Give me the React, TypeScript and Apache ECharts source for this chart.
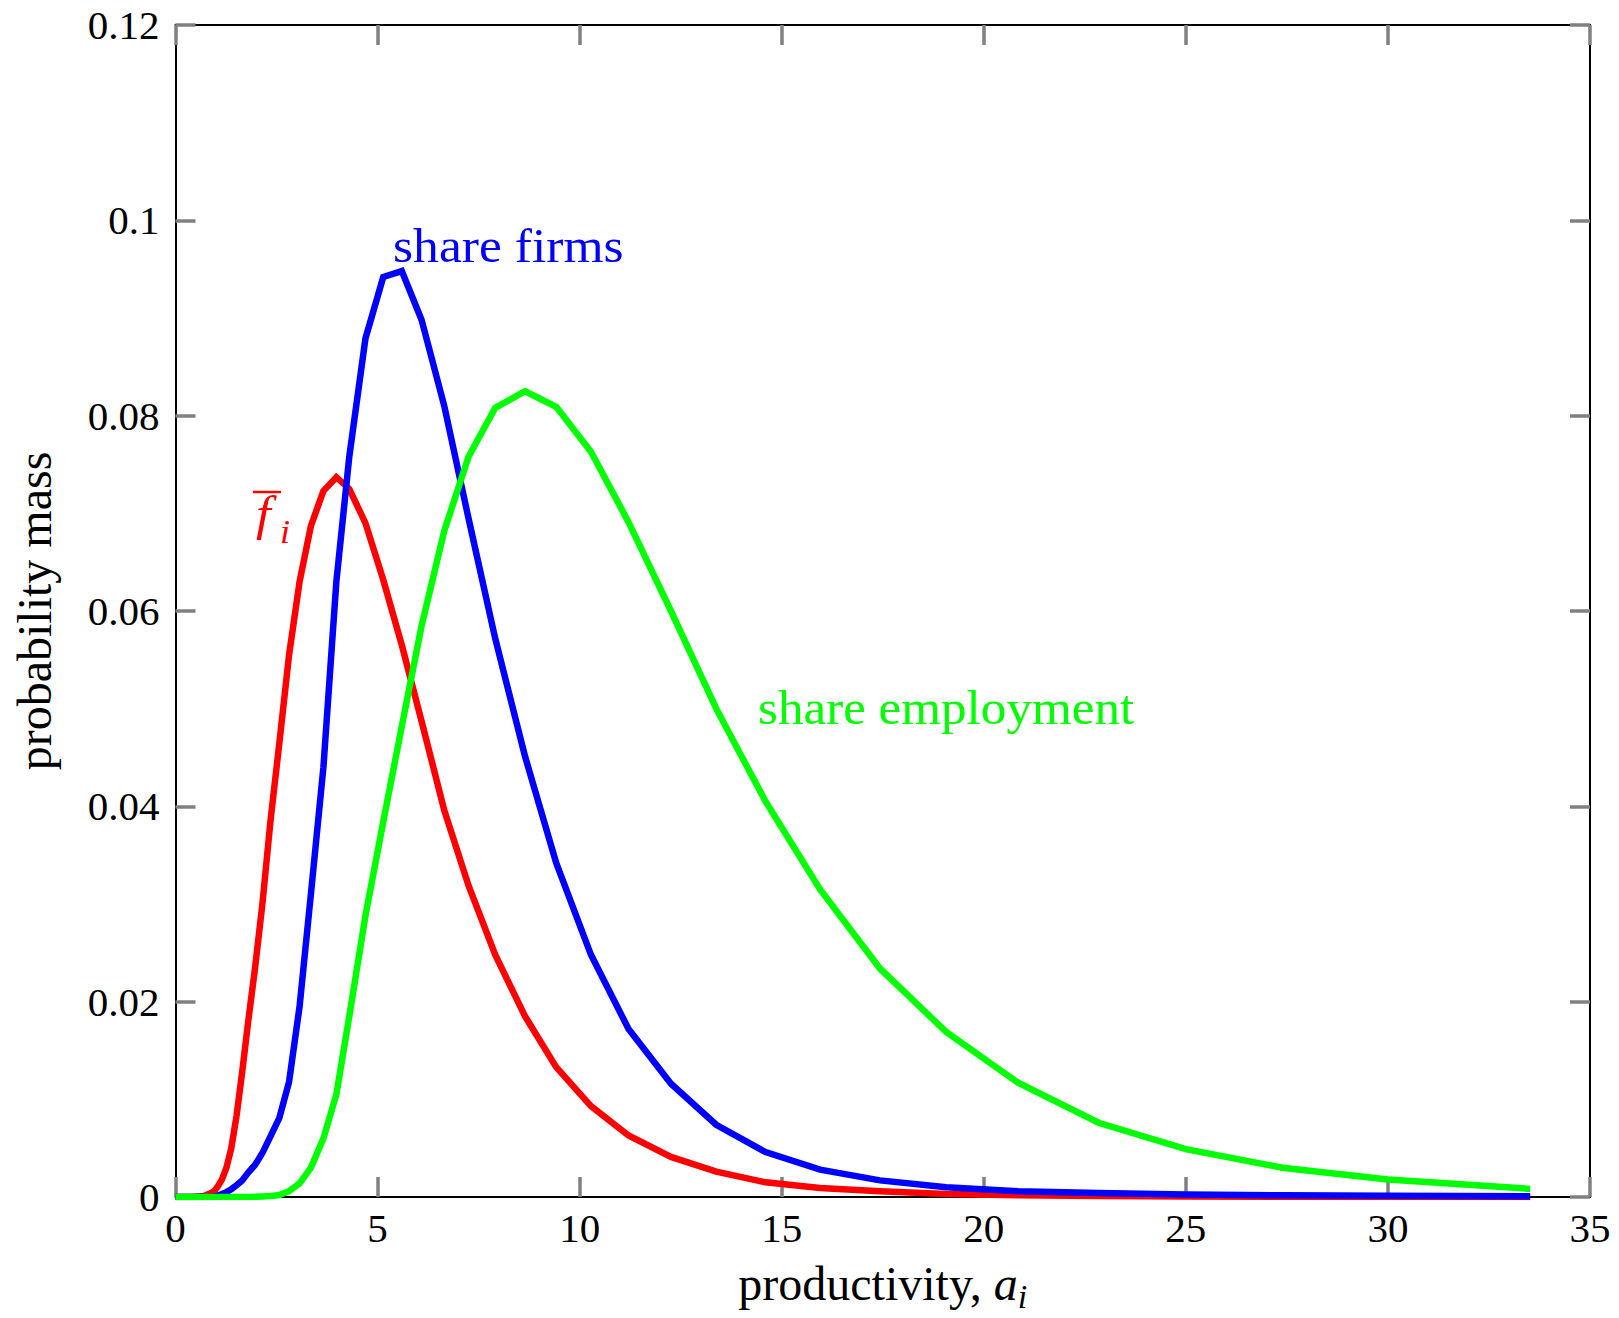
import React, { useEffect, useRef } from "react";
import * as echarts from "echarts";

// productivity grid (x)
const X = [0, 0.4, 0.7, 0.88, 0.96, 1.05, 1.15, 1.26, 1.38, 1.51, 1.65, 1.8, 1.97, 2.15, 2.35, 2.57, 2.81, 3.07, 3.35, 3.66, 3.98, 4.3, 4.7, 5.14, 5.6, 6.09, 6.65, 7.25, 7.91, 8.65, 9.42, 10.28, 11.21, 12.26, 13.38, 14.6, 15.95, 17.43, 19.07, 20.85, 22.84, 25.0, 27.39, 30.0, 33.52];

// f-bar_i (red)
const RED = [0, 0, 0.0001, 0.0004, 0.0006, 0.0011, 0.0018, 0.003, 0.005, 0.0083, 0.0128, 0.018, 0.0235, 0.03, 0.0385, 0.0465, 0.0555, 0.063, 0.0687, 0.0723, 0.0737, 0.0725, 0.069, 0.0632, 0.0565, 0.0487, 0.0396, 0.0319, 0.0248, 0.0185, 0.0133, 0.0093, 0.0063, 0.0041, 0.0026, 0.0015, 0.00093, 0.0006, 0.0003, 0.00018, 0.0001, 0.00005, 0.00002, 0.00001, 0.000005];

// share firms (blue)
const BLUE = [0, 0, 0, 0, 0.00005, 0.00015, 0.0003, 0.0005, 0.0008, 0.0012, 0.0017, 0.0025, 0.0033, 0.0045, 0.0062, 0.0081, 0.0118, 0.0195, 0.031, 0.044, 0.063, 0.0758, 0.0879, 0.0942, 0.0948, 0.0898, 0.081, 0.0695, 0.0572, 0.0451, 0.0342, 0.0248, 0.0172, 0.0116, 0.0074, 0.0046, 0.0028, 0.0017, 0.001, 0.0006, 0.0004, 0.00025, 0.00018, 0.00012, 0.00008];

// share employment (green)
const GREEN = [0, 0, 0, 0, 0, 0, 0, 0, 0, 0, 0, 0, 0.00002, 0.00005, 0.0001, 0.0002, 0.0006, 0.0014, 0.003, 0.006, 0.0105, 0.0185, 0.0288, 0.0384, 0.0482, 0.0585, 0.0682, 0.0758, 0.0808, 0.0825, 0.0809, 0.0763, 0.0691, 0.06, 0.05, 0.0405, 0.0315, 0.0234, 0.0169, 0.0117, 0.0076, 0.0049, 0.003, 0.0018, 0.00083];

const X_TICKS = { min: 0, max: 35, interval: 5 };
const Y_TICKS = { min: 0, max: 0.12, interval: 0.02 };

const FONT = "'Liberation Serif', 'Times New Roman', serif";

export default function App() {
  const ref = useRef<HTMLDivElement>(null);
  useEffect(() => {
    if (!ref.current) return;
    const chart = echarts.init(ref.current, undefined, { renderer: "svg" });
    const tickStyle = { show: true, inside: true, length: 20, lineStyle: { color: "#808080", width: 3.5 } };
    const axisLine = { show: true, onZero: false, lineStyle: { color: "#000", width: 2 } };
    const mk = (ys: number[]) => X.map((x, i) => [x, ys[i]]);
    const line = (name: string, ys: number[], color: string) => ({
      type: "line",
      name,
      data: mk(ys),
      showSymbol: false,
      symbol: "none",
      lineStyle: { color, width: 6.5, join: "miter", cap: "butt" },
      itemStyle: { color },
    });
    const txt = (text: string, x: number, y: number, color: string, font: string, sx: number) => ({
      type: "text",
      x,
      y,
      scaleX: sx,
      style: { text, fill: color, font, align: "left", verticalAlign: "middle", textAlign: "left", textVerticalAlign: "middle" },
    });
    chart.setOption({
      animation: false,
      backgroundColor: "#fff",
      grid: { left: 175.5, right: 29, top: 25, bottom: 115 },
      xAxis: [
        {
          type: "value",
          position: "bottom",
          ...X_TICKS,
          axisLine,
          axisTick: tickStyle,
          splitLine: { show: false },
          axisLabel: { fontFamily: FONT, fontSize: 41, color: "#000", margin: 10 },
          name: "productivity, {it|a}{sub|i}",
          nameLocation: "middle",
          nameGap: 56,
          nameTextStyle: {
            fontFamily: FONT,
            fontSize: 48,
            color: "#000",
            lineHeight: 60,
            rich: {
              it: { fontFamily: FONT, fontStyle: "italic", fontSize: 48, color: "#000", lineHeight: 60 },
              sub: { fontFamily: FONT, fontStyle: "italic", fontSize: 34, color: "#000", lineHeight: 32, verticalAlign: "bottom" },
            },
          },
        },
        {
          type: "value",
          position: "top",
          ...X_TICKS,
          axisLine,
          axisTick: tickStyle,
          splitLine: { show: false },
          axisLabel: { show: false },
        },
      ],
      yAxis: [
        {
          type: "value",
          position: "left",
          ...Y_TICKS,
          axisLine,
          axisTick: tickStyle,
          splitLine: { show: false },
          axisLabel: {
            fontFamily: FONT,
            fontSize: 41,
            color: "#000",
            margin: 16,
            formatter: (v: number) => String(parseFloat(v.toFixed(2))),
          },
          name: "probability mass",
          nameLocation: "middle",
          nameGap: 117,
          nameTextStyle: { fontFamily: FONT, fontSize: 48, color: "#000" },
        },
        {
          type: "value",
          position: "right",
          ...Y_TICKS,
          axisLine,
          axisTick: tickStyle,
          splitLine: { show: false },
          axisLabel: { show: false },
        },
      ],
      series: [line("f_i", RED, "#ff0000"), line("share firms", BLUE, "#0000ff"), line("share employment", GREEN, "#00ff00")],
      graphic: [
        txt("share firms", 393, 246, "#0000ff", `48px ${FONT}`, 1.075),
        txt("share employment", 758, 708, "#00ff00", `48px ${FONT}`, 1.065),
        txt("f", 256, 514, "#ff0000", `italic 48px ${FONT}`, 1.1),
        txt("i", 280, 532, "#ff0000", `italic 33px ${FONT}`, 1.1),
        {
          type: "line",
          shape: { x1: 253, y1: 492, x2: 281, y2: 492 },
          style: { stroke: "#ff0000", lineWidth: 2.5 },
        },
      ],
    });
    return () => chart.dispose();
  }, []);
  return <div ref={ref} style={{ position: "absolute", left: 0, top: 0, width: 1619, height: 1318 }} />;
}
